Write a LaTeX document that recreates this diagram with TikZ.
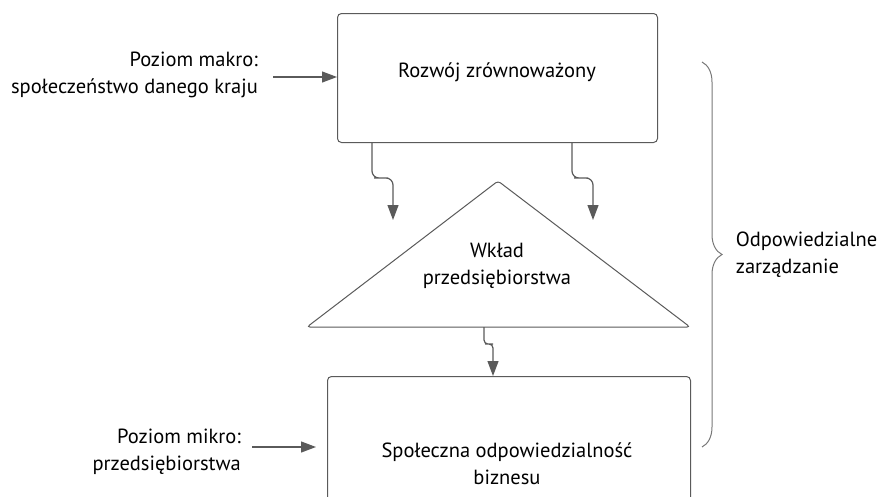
\documentclass[tikz,border=0pt]{standalone}
\usepackage{fontspec}
\setmainfont{PT Sans}
\usetikzlibrary{arrows.meta,decorations.pathreplacing}
\definecolor{linegray}{RGB}{90,90,90}
\definecolor{bracegray}{RGB}{120,120,120}
\tikzset{
  box/.style={draw=linegray,line width=1pt,rounded corners=4pt,fill=white},
  lbl/.style={align=right,anchor=east,inner sep=0pt},
  conn/.style={draw=linegray,line width=1.2pt,rounded corners=7pt,
    -{Triangle[length=15pt,width=11pt]}},
}
\begin{document}
\begin{tikzpicture}[x=1pt,y=-1pt,font=\fontsize{20.5}{27}\selectfont]
	\useasboundingbox (0,0) rectangle (884,496);
	% boxes
	\node[box,minimum width=320pt,minimum height=129pt,anchor=north west] (rozwoj) at (337,13) {};
	\node at (497,72) {Rozwój zrównoważony};
	\draw[draw=linegray,line width=1pt,rounded corners=3pt,fill=white] (307,327) -- (498,181) -- (690,327) -- cycle;
	\coordinate (base) at (484,327);
	\node[align=center] (wklad) at (497,266) {Wkład\\przedsiębiorstwa};
	\node[box,minimum width=363pt,minimum height=130pt,anchor=north west] (csr) at (327,376) {};
	\node[align=center] at (507,464) {Społeczna odpowiedzialność\\biznesu};
	% labels on the left
	\node[lbl] (makro) at (258,75) {Poziom makro:\\społeczeństwo danego kraju};
	\node[lbl] (mikro) at (241,452) {Poziom mikro:\\przedsiębiorstwa};
	% arrows
	\coordinate (tipl) at (393,220);
	\coordinate (tipr) at (593,220);
	\draw[conn] (rozwoj.south west) ++(35,0) |- (381,178) -| (tipl);
	\draw[conn] (rozwoj.south west) ++(235,0) |- (581,178) -| (tipr);
	\draw[conn,rounded corners=4pt] (base) |- (489,344) -| (csr.north west -| 493,0);
	\draw[conn] (makro.east) ++(15,2) -- (rozwoj.west |- 0,77);
	\draw[conn] (mikro.east) ++(11,-5) -- (316,447);
	% brace
	\draw[bracegray,line width=1pt,decorate,decoration={brace,amplitude=20pt}]
		(702,62) -- (702,447) node[midway,right=30pt,align=left,text=black] (zarz) {Odpowiedzialne\\zarządzanie};
\end{tikzpicture}
\end{document}
